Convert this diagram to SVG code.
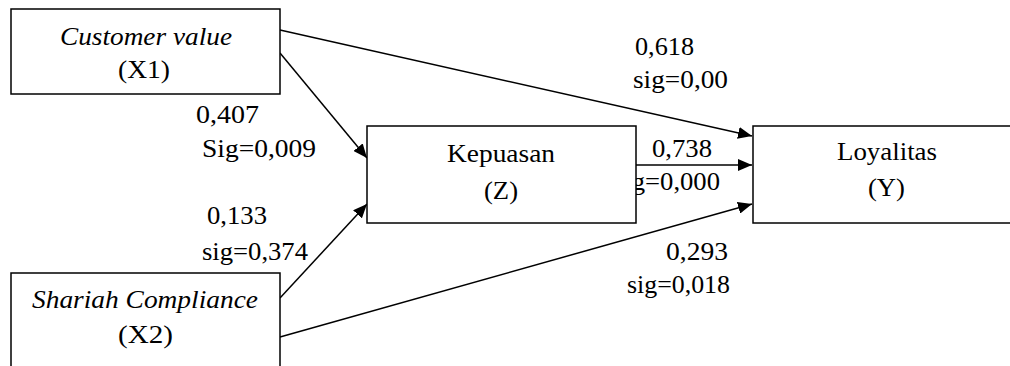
<svg xmlns="http://www.w3.org/2000/svg" width="1010" height="366" viewBox="0 0 1010 366">
<style>
text{font-family:"Liberation Serif","Times New Roman",serif;font-size:25px;fill:#000}
.it{font-style:italic}
.box{fill:#fff;stroke:#000;stroke-width:1.5}
.edge{stroke:#000;stroke-width:1.5;fill:none;marker-end:url(#ah)}
</style>
<defs>
<marker id="ah" viewBox="0 0 14 12" refX="14" refY="6" markerWidth="14" markerHeight="12" markerUnits="userSpaceOnUse" orient="auto">
<path d="M0,0 L14,6 L0,12 z" fill="#000"/>
</marker>
</defs>
<rect width="1010" height="366" fill="#fff"/>
<g id="labels">
<text x="635" y="55" textLength="59" lengthAdjust="spacingAndGlyphs">0,618</text>
<text x="633" y="88" textLength="95" lengthAdjust="spacingAndGlyphs">sig=0,00</text>
<text x="196" y="123" textLength="63" lengthAdjust="spacingAndGlyphs">0,407</text>
<text x="202" y="157" textLength="114" lengthAdjust="spacingAndGlyphs">Sig=0,009</text>
<text x="207" y="224" textLength="60" lengthAdjust="spacingAndGlyphs">0,133</text>
<text x="202" y="260" textLength="106" lengthAdjust="spacingAndGlyphs">sig=0,374</text>
<text x="652" y="157" textLength="60" lengthAdjust="spacingAndGlyphs">0,738</text>
<text x="614" y="190" textLength="106" lengthAdjust="spacingAndGlyphs">sig=0,000</text>
<text x="666" y="260" textLength="62" lengthAdjust="spacingAndGlyphs">0,293</text>
<text x="627" y="293" textLength="103" lengthAdjust="spacingAndGlyphs">sig=0,018</text>
</g>
<g id="connectors">
<line class="edge" x1="280" y1="30" x2="752" y2="136"/>
<line class="edge" x1="280" y1="53" x2="367" y2="158"/>
<line class="edge" x1="280" y1="298" x2="367" y2="204"/>
<line class="edge" x1="636" y1="165" x2="752" y2="165"/>
<line class="edge" x1="280" y1="337" x2="752" y2="204"/>
</g>
<g id="x1">
<rect class="box" x="11" y="9" width="269" height="85"/>
<text class="it" x="60" y="45" textLength="172" lengthAdjust="spacingAndGlyphs">Customer value</text>
<text x="118" y="78" textLength="52" lengthAdjust="spacingAndGlyphs">(X1)</text>
</g>
<g id="x2">
<rect class="box" x="11" y="273" width="269" height="110"/>
<text class="it" x="32" y="308" textLength="226" lengthAdjust="spacingAndGlyphs">Shariah Compliance</text>
<text x="118" y="343" textLength="55" lengthAdjust="spacingAndGlyphs">(X2)</text>
</g>
<g id="z">
<rect class="box" x="367" y="126" width="269" height="97"/>
<text x="447" y="162" textLength="108" lengthAdjust="spacingAndGlyphs">Kepuasan</text>
<text x="484" y="199" textLength="34" lengthAdjust="spacingAndGlyphs">(Z)</text>
</g>
<g id="y">
<rect class="box" x="753" y="126" width="300" height="97"/>
<text x="837" y="160" textLength="100" lengthAdjust="spacingAndGlyphs">Loyalitas</text>
<text x="868" y="196" textLength="37" lengthAdjust="spacingAndGlyphs">(Y)</text>
</g>
</svg>
